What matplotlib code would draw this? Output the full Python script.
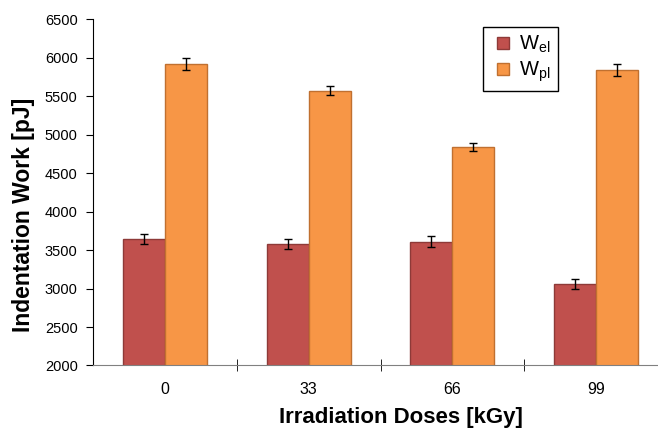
import numpy as np
import matplotlib
matplotlib.use("Agg")
import matplotlib.pyplot as plt
from matplotlib.ticker import FixedLocator
from matplotlib.lines import Line2D

plt.rcParams["font.family"] = ["Liberation Sans", "DejaVu Sans"]
plt.rcParams["mathtext.fontset"] = "custom"
plt.rcParams["mathtext.rm"] = "Liberation Sans"
plt.rcParams["mathtext.it"] = "Liberation Sans"

# data
doses = ["0", "33", "66", "99"]
w_el = [3645, 3580, 3610, 3060]
w_el_err = [62, 70, 68, 60]
w_pl = [5915, 5572, 4840, 5845]
w_pl_err = [78, 60, 55, 76]

red, red_edge = "#C0504D", "#8E3A38"
orange, orange_edge = "#F79646", "#C07030"

fig = plt.figure(figsize=(6.58, 4.32), dpi=100)
ax = fig.add_axes([0.1413, 0.154, 0.874, 0.801])

x = np.arange(len(doses))
bw = 0.292
err_kw = dict(ecolor="black", elinewidth=1, capsize=3, capthick=1)
ax.bar(x - bw / 2, w_el, bw, yerr=w_el_err, color=red, edgecolor=red_edge,
       linewidth=1, error_kw=err_kw, zorder=2)
ax.bar(x + bw / 2, w_pl, bw, yerr=w_pl_err, color=orange, edgecolor=orange_edge,
       linewidth=1, error_kw=err_kw, zorder=2)

ax.set_ylim(2000, 6500)
ax.set_yticks(np.arange(2000, 6501, 500))
ax.set_xlim(-0.5, 3.5)
ax.set_xticks(x)
ax.set_xticklabels(doses)
ax.xaxis.set_minor_locator(FixedLocator([0.5, 1.5, 2.5]))
ax.tick_params(axis="x", which="major", length=0, pad=12, labelsize=11.5)
ax.tick_params(axis="x", which="minor", length=8, direction="inout", color="black")
ax.tick_params(axis="y", length=5, direction="out", labelsize=10.5, pad=6)

for s in ["top", "right"]:
    ax.spines[s].set_visible(False)
ax.spines["bottom"].set_color("#808080")
ax.spines["left"].set_color("black")

ax.set_xlabel("Irradiation Doses [kGy]", fontsize=16, fontweight="bold")
ax.xaxis.set_label_coords(0.535, -0.12)
ax.set_ylabel("Indentation Work [pJ]", fontsize=16.5, fontweight="bold")
ax.yaxis.set_label_coords(-0.1, 0.435)

handles = [
    Line2D([], [], ls="none", marker="s", markersize=8, markerfacecolor=red,
           markeredgecolor=red_edge, markeredgewidth=1),
    Line2D([], [], ls="none", marker="s", markersize=8, markerfacecolor=orange,
           markeredgecolor=orange_edge, markeredgewidth=1),
]
leg = ax.legend(handles, [r"W$_{\rm el}$", r"W$_{\rm pl}$"], loc="upper left",
                bbox_to_anchor=(0.678, 0.978), borderaxespad=0,
                fontsize=14.5, fancybox=False, edgecolor="black", framealpha=1,
                handlelength=1.3, handletextpad=0.15,
                borderpad=0.35, labelspacing=0.2)
leg.get_frame().set_linewidth(1)

plt.savefig("out.png", dpi=100)
